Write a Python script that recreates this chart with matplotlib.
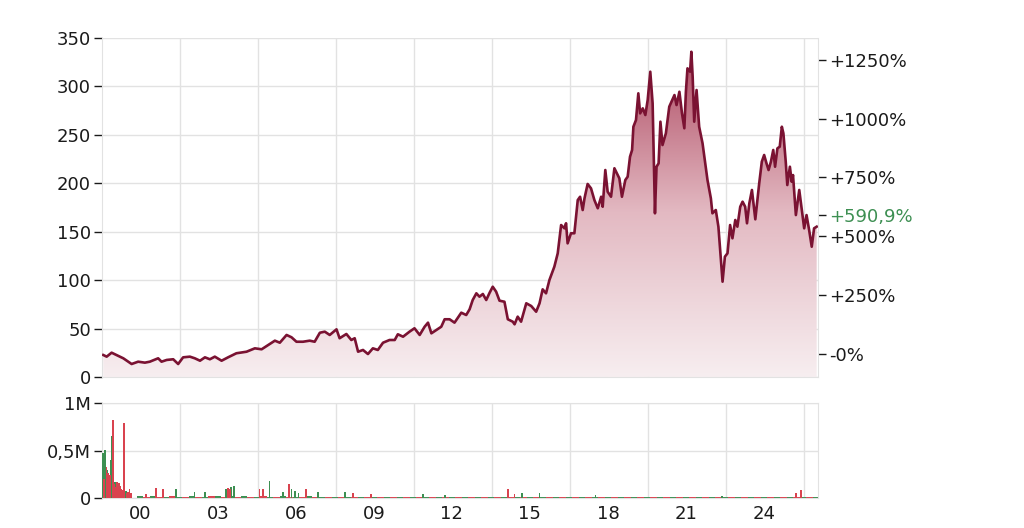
import numpy as np
import matplotlib
matplotlib.use('Agg')
import matplotlib.pyplot as plt
from matplotlib.colors import LinearSegmentedColormap
from matplotlib.patches import Polygon

plt.rcParams['font.family'] = ['DejaVu Sans']

# --- price data (decimal year, price) ---
years = [
    1998.59, 1998.72, 1998.91, 1999.10, 1999.36, 1999.68, 1999.93, 2000.19, 2000.38, 2000.70,
    2000.83, 2001.03, 2001.28, 2001.47, 2001.66, 2001.92, 2002.11, 2002.31, 2002.50, 2002.69,
    2002.88, 2003.14, 2003.39, 2003.71, 2004.10, 2004.42, 2004.68, 2004.93, 2005.19, 2005.38,
    2005.64, 2005.83, 2006.02, 2006.27, 2006.53, 2006.72, 2006.92, 2007.11, 2007.30, 2007.56,
    2007.68, 2007.94, 2008.13, 2008.26, 2008.39, 2008.58, 2008.77, 2008.96, 2009.15, 2009.35,
    2009.60, 2009.80, 2009.92, 2010.12, 2010.37, 2010.56, 2010.76, 2010.95, 2011.08, 2011.21,
    2011.40, 2011.59, 2011.72, 2011.91, 2012.10, 2012.36, 2012.55, 2012.68, 2012.80, 2012.94,
    2013.06, 2013.19, 2013.32, 2013.45, 2013.57, 2013.70, 2013.83, 2014.02, 2014.15, 2014.34,
    2014.41, 2014.53, 2014.66, 2014.86, 2015.05, 2015.24, 2015.37, 2015.49, 2015.62, 2015.75,
    2015.94, 2016.07, 2016.20, 2016.33, 2016.39, 2016.45, 2016.58, 2016.71, 2016.84, 2016.93,
    2017.03, 2017.10, 2017.22, 2017.35, 2017.48, 2017.61, 2017.74, 2017.80, 2017.90, 2017.99,
    2018.12, 2018.25, 2018.38, 2018.44, 2018.54, 2018.67, 2018.76, 2018.85, 2018.93, 2018.98,
    2019.08, 2019.17, 2019.24, 2019.34, 2019.44, 2019.53, 2019.63, 2019.72, 2019.81, 2019.87,
    2019.95, 2020.02, 2020.10, 2020.23, 2020.36, 2020.56, 2020.64, 2020.75, 2020.85, 2020.94,
    2021.00, 2021.06, 2021.16, 2021.21, 2021.26, 2021.32, 2021.41, 2021.51, 2021.64, 2021.77,
    2021.83, 2021.96, 2022.02, 2022.15, 2022.25, 2022.35, 2022.41, 2022.50, 2022.60, 2022.70,
    2022.79, 2022.90, 2022.98, 2023.09, 2023.18, 2023.28, 2023.35, 2023.44, 2023.54, 2023.67,
    2023.82, 2023.92, 2024.01, 2024.10, 2024.18, 2024.27, 2024.36, 2024.43, 2024.52, 2024.61,
    2024.69, 2024.75, 2024.84, 2024.90, 2025.00, 2025.07, 2025.12, 2025.23, 2025.36, 2025.46,
    2025.55, 2025.64, 2025.74, 2025.84, 2025.93, 2026.03,
]
prices = [
    22.7, 21.0, 25.1, 22.7, 19.3, 13.4, 15.8, 14.8, 15.8, 19.3,
    15.8, 17.6, 18.3, 13.4, 20.3, 21.0, 19.3, 16.8, 20.3, 18.3,
    21.0, 16.8, 20.3, 24.5, 26.1, 29.6, 28.6, 33.0, 37.5, 35.4,
    43.4, 41.0, 36.4, 36.4, 37.5, 36.4, 45.7, 46.8, 43.4, 49.2,
    40.0, 44.4, 38.2, 40.0, 26.1, 27.9, 23.7, 29.6, 27.9, 35.4,
    38.2, 38.2, 44.1, 41.6, 46.8, 50.3, 43.4, 51.9, 56.1, 45.1,
    48.5, 51.9, 59.6, 59.6, 56.1, 66.4, 64.0, 69.9, 79.5, 86.4,
    82.9, 85.7, 79.5, 87.0, 93.2, 88.1, 78.8, 77.7, 59.6, 57.1,
    54.4, 62.3, 57.1, 76.1, 73.3, 67.4, 76.1, 90.5, 86.4, 100.1,
    113.9, 127.7, 156.9, 153.5, 158.7, 138.0, 148.4, 148.4, 182.7, 186.1,
    172.4, 184.5, 199.3, 194.8, 182.7, 174.2, 186.1, 175.8, 213.7, 191.3,
    186.1, 215.5, 208.5, 205.1, 186.1, 203.4, 206.8, 227.4, 234.4, 258.4,
    265.3, 292.9, 272.2, 277.4, 270.5, 286.0, 315.2, 282.6, 169.0, 217.1,
    220.6, 263.6, 239.5, 251.6, 279.1, 291.1, 280.8, 294.5, 272.2, 256.8,
    294.5, 318.7, 315.2, 335.8, 310.0, 263.6, 296.3, 258.4, 241.3, 215.5,
    203.4, 184.5, 169.0, 172.4, 155.2, 119.0, 98.4, 124.2, 127.7, 156.9,
    143.2, 162.1, 155.2, 175.8, 181.0, 175.8, 158.7, 179.3, 193.1, 162.8,
    200.0, 222.3, 229.2, 220.6, 213.7, 222.3, 234.4, 217.1, 236.1, 237.8,
    258.4, 251.6, 222.3, 198.2, 217.1, 201.6, 208.5, 167.2, 193.1, 172.4,
    153.5, 167.2, 151.8, 134.5, 153.5, 155.2,
]
base_price = 24.24
last_pct = 590.9

# --- volume data (decimal year, millions of shares) ---
vol_up_years = [1998.58, 1998.64, 1998.74, 1998.80, 1998.87, 1998.92, 1999.05, 1999.10, 1999.47,
                2001.39, 2002.10, 2002.49, 2003.30, 2003.50, 2003.61, 2004.98, 2005.50, 2005.83,
                2005.95, 2006.10, 2006.85, 2007.88, 2010.88, 2011.72, 2014.71, 2015.37, 2017.52,
                2022.40]
vol_up = [0.47, 0.51, 0.29, 0.22, 0.40, 0.65, 0.17, 0.14, 0.07,
          0.09, 0.06, 0.06, 0.10, 0.12, 0.13, 0.18, 0.06, 0.10,
          0.07, 0.05, 0.06, 0.06, 0.04, 0.03, 0.05, 0.05, 0.03,
          0.02]
vol_down_years = [1998.62, 1998.71, 1998.78, 1998.84, 1998.96, 1999.00, 1999.08, 1999.13, 1999.18,
                  1999.22, 1999.26, 1999.30, 1999.35, 1999.39, 1999.50, 1999.55, 1999.60, 1999.67,
                  2000.24, 2000.63, 2000.88, 2003.38, 2003.46, 2004.60, 2004.73, 2005.74, 2006.40,
                  2008.19, 2008.90, 2014.15, 2014.41, 2025.23, 2025.42]
vol_down = [0.20, 0.33, 0.26, 0.24, 0.82, 0.15, 0.12, 0.17, 0.16,
            0.13, 0.10, 0.06, 0.08, 0.79, 0.05, 0.06, 0.09, 0.05,
            0.04, 0.11, 0.09, 0.11, 0.09, 0.10, 0.10, 0.15, 0.10,
            0.05, 0.04, 0.10, 0.04, 0.05, 0.08]
base_vol_years = np.arange(2000.0, 2026.01, 0.25)
base_vol = [0.020, 0.015, 0.020, 0.015, 0.015, 0.020, 0.015, 0.015, 0.020, 0.015,
            0.015, 0.020, 0.020, 0.015, 0.020, 0.015, 0.020, 0.015, 0.015, 0.020,
            0.015, 0.015, 0.020, 0.015, 0.015, 0.015, 0.020, 0.015, 0.015, 0.015,
            0.015, 0.015, 0.015, 0.010, 0.015, 0.015, 0.010, 0.015, 0.010, 0.015,
            0.010, 0.010, 0.015, 0.010, 0.010, 0.010, 0.015, 0.010, 0.010, 0.010,
            0.010, 0.010, 0.010, 0.015, 0.010, 0.010, 0.010, 0.010, 0.010, 0.010,
            0.010, 0.010, 0.010, 0.010, 0.010, 0.010, 0.010, 0.010, 0.010, 0.010,
            0.010, 0.010, 0.010, 0.010, 0.010, 0.010, 0.010, 0.010, 0.010, 0.010,
            0.010, 0.010, 0.010, 0.010, 0.010, 0.010, 0.010, 0.010, 0.010, 0.010,
            0.010, 0.010, 0.010, 0.010, 0.010, 0.010, 0.010, 0.010, 0.010, 0.010,
            0.015, 0.010, 0.010, 0.010, 0.010]

label_years = [2000, 2003, 2006, 2009, 2012, 2015, 2018, 2021, 2024]
label_text = ['00', '03', '06', '09', '12', '15', '18', '21', '24']
grid_years = [y + 1.55 for y in label_years]
pct_ticks = [0, 250, 500, 750, 1000, 1250]

line_col = '#7a1232'
grid_col = '#e2e2e2'
green = '#3d8f52'
red = '#d9434f'
txt = '#1a1a1a'
fs = 13
xmin, xmax = 1998.54, 2026.08

fig = plt.figure(figsize=(10.24, 5.28), dpi=100)
ax = fig.add_axes([0.0996, 0.2860, 0.6992, 0.6420])
axv = fig.add_axes([0.0996, 0.0568, 0.6992, 0.1799])

# price panel
ax.set_xlim(xmin, xmax)
ax.set_ylim(0, 350)
cmap = LinearSegmentedColormap.from_list('fill', ['#f7eef0', '#e3b9c2', '#ad4860'])
grad = np.linspace(0, 1, 256).reshape(-1, 1)
im = ax.imshow(grad, extent=[xmin, xmax, 0, 340], origin='lower', aspect='auto',
               cmap=cmap, zorder=1)
verts = list(zip(years, prices)) + [(years[-1], 0), (years[0], 0)]
patch = Polygon(verts, facecolor='none', edgecolor='none')
ax.add_patch(patch)
im.set_clip_path(patch)
ax.plot(years, prices, color=line_col, lw=1.9, zorder=3)

ax.set_yticks([0, 50, 100, 150, 200, 250, 300, 350])
ax.set_xticks(grid_years)
ax.set_xticklabels([])
ax.tick_params(axis='x', length=0)
ax.tick_params(axis='y', length=6, width=1, color=txt, labelsize=fs, labelcolor=txt, pad=2)
ax.grid(True, color=grid_col, lw=1, zorder=0)
ax.set_axisbelow(True)
ax.spines['top'].set_visible(False)
for s in ['left', 'right', 'bottom']:
    ax.spines[s].set_color(grid_col)

sec = ax.secondary_yaxis('right', functions=(lambda p: (p / base_price - 1) * 100,
                                             lambda q: (q / 100 + 1) * base_price))
sec.set_yticks(pct_ticks + [last_pct])
sec.set_yticklabels([('+%d%%' % t) if t > 0 else '-0%' for t in pct_ticks]
                    + ['+' + ('%.1f' % last_pct).replace('.', ',') + '%'])
sec.tick_params(length=6, width=1, color=txt, labelsize=fs, labelcolor=txt, pad=2)
sec.get_yticklabels()[-1].set_color(green)
sec.spines['right'].set_visible(False)

# volume panel
axv.set_xlim(xmin, xmax)
axv.set_ylim(0, 1.0)
axv.bar(base_vol_years, base_vol, width=0.25,
        color=[red if i % 2 else green for i in range(len(base_vol))], zorder=2)
axv.bar(vol_up_years, vol_up, width=0.07, color=green, zorder=3)
axv.bar(vol_down_years, vol_down, width=0.07, color=red, zorder=4)
axv.set_yticks([0, 0.5, 1.0])
axv.set_yticklabels(['0', '0,5M', '1M'])
axv.tick_params(axis='y', length=6, width=1, color=txt, labelsize=fs, labelcolor=txt, pad=2)
axv.set_xticks(grid_years)
axv.set_xticklabels([])
axv.set_xticks(label_years, minor=True)
axv.set_xticklabels(label_text, minor=True)
axv.tick_params(axis='x', which='both', length=0, labelsize=fs, labelcolor=txt, pad=5)
axv.grid(True, which='major', color=grid_col, lw=1, zorder=0)
axv.set_axisbelow(True)
for s in ['left', 'right', 'bottom', 'top']:
    axv.spines[s].set_color(grid_col)

fig.savefig('out.png', dpi=100, facecolor='white')
